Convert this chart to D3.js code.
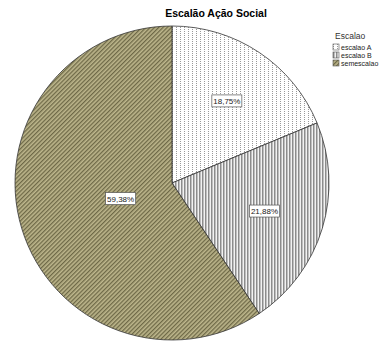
<!DOCTYPE html>
<html>
<head>
<meta charset="utf-8">
<script src="https://cdn.jsdelivr.net/npm/d3@7"></script>
<style>
  body { margin: 0; background: #fff; }
  svg { display: block; font-family: "Liberation Sans", Arial, sans-serif; }
</style>
</head>
<body>
<svg width="379" height="347"></svg>
<script>
// dados
const categories = ['escalao A', 'escalao B', 'semescalao'];
const counts = [6, 7, 19];
const percentLabels = ['18,75%', '21,88%', '59,38%'];

const width = 379;
const height = 347;
const svg = d3.select('svg').attr('width', width).attr('height', height);

// padrões de preenchimento
const defs = svg.append('defs');

const pA = defs.append('pattern').attr('id', 'pat0')
  .attr('patternUnits', 'userSpaceOnUse').attr('width', 4).attr('height', 2);
pA.append('rect').attr('width', 4).attr('height', 2).attr('fill', '#fff');
pA.append('rect').attr('x', 0).attr('y', 0).attr('width', 1).attr('height', 1).attr('fill', '#9a9a9a');

const pB = defs.append('pattern').attr('id', 'pat1')
  .attr('patternUnits', 'userSpaceOnUse').attr('width', 3).attr('height', 3);
pB.append('rect').attr('width', 3).attr('height', 3).attr('fill', '#f2f2f2');
pB.append('rect').attr('x', 0).attr('width', 1.5).attr('height', 3).attr('fill', '#8c8c8c');

const pC = defs.append('pattern').attr('id', 'pat2')
  .attr('patternUnits', 'userSpaceOnUse').attr('width', 3).attr('height', 3)
  .attr('patternTransform', 'rotate(45)');
pC.append('rect').attr('width', 3).attr('height', 3).attr('fill', '#bdb68c');
pC.append('rect').attr('x', 0).attr('width', 1.3).attr('height', 3).attr('fill', '#6e6947');

// título
svg.append('text')
  .attr('x', 216)
  .attr('y', 17)
  .attr('text-anchor', 'middle')
  .attr('font-size', 10.5)
  .attr('font-weight', 'bold')
  .text('Escalão Ação Social');

// pizza
const cx = 172, cy = 183, r = 157;
const pie = d3.pie().sort(null).value(d => d);
const arcs = pie(counts);
const arc = d3.arc().innerRadius(0).outerRadius(r);

// rótulo no centróide da área do sector
function labelPos(d) {
  const half = (d.endAngle - d.startAngle) / 2;
  const mid = d.startAngle + half;
  const dist = (2 * r * Math.sin(half)) / (3 * half);
  return [dist * Math.sin(mid), -dist * Math.cos(mid)];
}

const g = svg.append('g').attr('transform', `translate(${cx},${cy})`);

g.selectAll('.slice')
  .data(arcs)
  .enter()
  .append('path')
  .attr('class', 'slice')
  .attr('d', arc)
  .attr('fill', (d, i) => `url(#pat${i})`)
  .attr('stroke', '#333')
  .attr('stroke-width', 0.8);

// rótulos de percentagem
const labels = g.selectAll('.lbl')
  .data(arcs)
  .enter()
  .append('g')
  .attr('class', 'lbl')
  .attr('transform', d => `translate(${labelPos(d)})`);

labels.append('rect')
  .attr('x', -15)
  .attr('y', -6)
  .attr('width', 30)
  .attr('height', 12)
  .attr('fill', '#fff')
  .attr('stroke', '#555')
  .attr('stroke-width', 0.7);

labels.append('text')
  .attr('text-anchor', 'middle')
  .attr('dy', 3)
  .attr('font-size', 8)
  .attr('fill', '#222')
  .text((d, i) => percentLabels[i]);

// legenda
const legend = svg.append('g').attr('transform', 'translate(333,0)');
legend.append('text')
  .attr('x', 2)
  .attr('y', 39)
  .attr('font-size', 8.5)
  .attr('fill', '#333')
  .text('Escalao');

const item = legend.selectAll('.item')
  .data(categories)
  .enter()
  .append('g')
  .attr('class', 'item')
  .attr('transform', (d, i) => `translate(0,${44 + i * 8})`);

item.append('rect')
  .attr('width', 6)
  .attr('height', 6)
  .attr('fill', (d, i) => `url(#pat${i})`)
  .attr('stroke', '#555')
  .attr('stroke-width', 0.6);

item.append('text')
  .attr('x', 8)
  .attr('y', 6)
  .attr('font-size', 7)
  .attr('fill', '#222')
  .text(d => d);
</script>
</body>
</html>
